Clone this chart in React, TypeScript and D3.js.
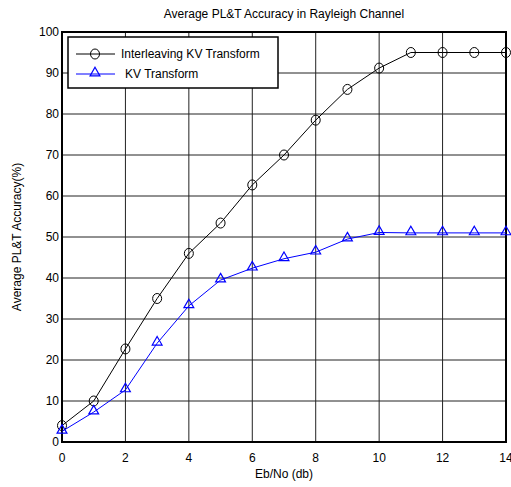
import React, { useEffect, useRef } from 'react';
import * as d3 from 'd3';

const ebNo = [0, 1, 2, 3, 4, 5, 6, 7, 8, 9, 10, 11, 12, 13, 14];
const interleavingKV = [4, 10, 22.7, 35, 46, 53.4, 62.7, 70, 78.5, 86, 91.2, 95, 95, 95, 95];
const kvTransform = [2.6, 7.3, 12.7, 24.1, 33.2, 39.5, 42.4, 44.7, 46.3, 49.5, 51.1, 51, 51, 51, 51];
const xTicks = [0, 2, 4, 6, 8, 10, 12, 14];
const yTicks = [0, 10, 20, 30, 40, 50, 60, 70, 80, 90, 100];
const seriesNames = ['Interleaving KV Transform', 'KV Transform'];

export default function App() {
    const ref = useRef<SVGSVGElement>(null);

    const width = 511;
    const height = 487;
    const marginLeft = 62;
    const marginRight = 5;
    const marginTop = 32;
    const marginBottom = 45;

    useEffect(() => {
        const svg = d3.select(ref.current);
        svg.selectAll('*').remove();

        const x = d3.scaleLinear().domain([0, 14]).range([marginLeft, width - marginRight]);
        const y = d3.scaleLinear().domain([0, 100]).range([height - marginBottom, marginTop]);
        const font = 'Liberation Sans, Arial, sans-serif';

        svg.append('rect')
            .attr('width', width)
            .attr('height', height)
            .attr('fill', '#fff');

        // grid
        const grid = svg.append('g').attr('stroke', '#222').attr('stroke-width', 1);
        grid.selectAll('line.gx')
            .data(xTicks)
            .join('line')
            .attr('x1', d => x(d)).attr('x2', d => x(d))
            .attr('y1', y(0)).attr('y2', y(100));
        grid.selectAll('line.gy')
            .data(yTicks)
            .join('line')
            .attr('class', 'gy')
            .attr('x1', x(0)).attr('x2', x(14))
            .attr('y1', d => y(d)).attr('y2', d => y(d));

        // axes labels
        svg.append('g')
            .selectAll('text')
            .data(xTicks)
            .join('text')
            .attr('x', d => x(d))
            .attr('y', y(0) + 20)
            .attr('text-anchor', 'middle')
            .attr('font-family', font)
            .attr('font-size', 12)
            .text(d => d);

        svg.append('g')
            .selectAll('text')
            .data(yTicks)
            .join('text')
            .attr('x', x(0) - 3)
            .attr('y', d => y(d) + 4)
            .attr('text-anchor', 'end')
            .attr('font-family', font)
            .attr('font-size', 12)
            .text(d => d);

        // box
        svg.append('rect')
            .attr('x', x(0))
            .attr('y', y(100))
            .attr('width', x(14) - x(0))
            .attr('height', y(0) - y(100))
            .attr('fill', 'none')
            .attr('stroke', '#000')
            .attr('stroke-width', 2);

        const line = d3.line<number>()
            .x((d, i) => x(ebNo[i]))
            .y(d => y(d));

        const tri = d3.symbol().type(d3.symbolTriangle).size(42);

        // interleaving series
        svg.append('path')
            .attr('fill', 'none')
            .attr('stroke', '#000')
            .attr('stroke-width', 1)
            .attr('d', line(interleavingKV));
        svg.append('g')
            .selectAll('ellipse')
            .data(interleavingKV)
            .join('ellipse')
            .attr('cx', (d, i) => x(ebNo[i]))
            .attr('cy', d => y(d))
            .attr('rx', 4.5)
            .attr('ry', 5)
            .attr('fill', 'none')
            .attr('stroke', '#000')
            .attr('stroke-width', 1);

        // kv series
        svg.append('path')
            .attr('fill', 'none')
            .attr('stroke', '#0000ff')
            .attr('stroke-width', 1)
            .attr('d', line(kvTransform));
        svg.append('g')
            .selectAll('path')
            .data(kvTransform)
            .join('path')
            .attr('transform', (d, i) => `translate(${x(ebNo[i])},${y(d) - 1})`)
            .attr('d', tri)
            .attr('fill', 'none')
            .attr('stroke', '#0000ff')
            .attr('stroke-width', 1.2);

        // legend
        const legend = svg.append('g').attr('transform', `translate(68,37)`);
        legend.append('rect')
            .attr('width', 210)
            .attr('height', 51)
            .attr('fill', '#fff')
            .attr('stroke', '#000')
            .attr('stroke-width', 1.5);
        const colors = ['#000', '#0000ff'];
        seriesNames.forEach((name, i) => {
            const ly = 17 + i * 20;
            legend.append('line')
                .attr('x1', 8).attr('x2', 47)
                .attr('y1', ly).attr('y2', ly)
                .attr('stroke', colors[i]);
            if (i === 0) {
                legend.append('ellipse')
                    .attr('cx', 27).attr('cy', ly)
                    .attr('rx', 4.5).attr('ry', 5)
                    .attr('fill', 'none').attr('stroke', colors[i]);
            } else {
                legend.append('path')
                    .attr('transform', `translate(27,${ly - 1})`)
                    .attr('d', tri)
                    .attr('fill', 'none')
                    .attr('stroke', colors[i])
                    .attr('stroke-width', 1.2);
            }
            legend.append('text')
                .attr('x', i === 0 ? 53 : 57)
                .attr('y', ly + 4)
                .attr('font-family', font)
                .attr('font-size', 12)
                .text(name);
        });

        // titles
        svg.append('text')
            .attr('x', (x(0) + x(14)) / 2)
            .attr('y', 18)
            .attr('text-anchor', 'middle')
            .attr('font-family', font)
            .attr('font-size', 12)
            .text('Average PL&T Accuracy in Rayleigh Channel');

        svg.append('text')
            .attr('x', (x(0) + x(14)) / 2)
            .attr('y', height - 9)
            .attr('text-anchor', 'middle')
            .attr('font-family', font)
            .attr('font-size', 12)
            .text('Eb/No (db)');

        svg.append('text')
            .attr('transform', `translate(21,${(y(0) + y(100)) / 2}) rotate(-90)`)
            .attr('text-anchor', 'middle')
            .attr('font-family', font)
            .attr('font-size', 12)
            .text('Average PL&T Accuracy(%)');
    }, []);

    return (
        <svg ref={ref} width={width} height={height}
            style={{ position: 'absolute', left: 0, top: 0 }} />
    );
}
